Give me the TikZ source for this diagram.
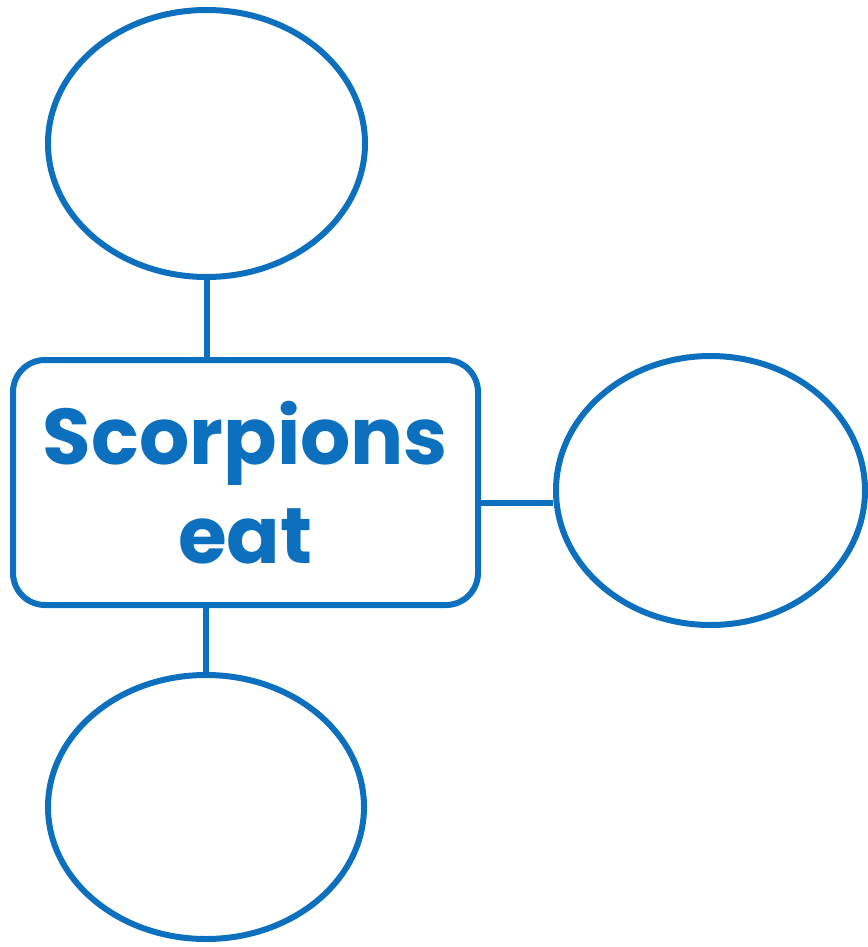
\documentclass[tikz,border=0pt]{standalone}
\usepackage{fontspec}
\setmainfont{Poppins}
\usepackage{tikz}
\usetikzlibrary{shapes.geometric}
\definecolor{mapblue}{RGB}{12,112,190}

\begin{document}
\begin{tikzpicture}[x=1pt,y=-1pt,line width=6pt,
    % styles
    bubble/.style={ellipse,draw=mapblue,inner sep=0pt},
    centre box/.style={draw=mapblue,rounded corners=32pt,inner sep=0pt,
      minimum width=465pt,minimum height=245pt,align=center,text=mapblue,
      font=\fontsize{79}{99}\selectfont\bfseries},
    link/.style={draw=mapblue}]

  % frame
  \useasboundingbox (0,0) rectangle (867,947);

  % centre
  \node [centre box] (eat) at (245.5,482.5) {Scorpions\\eat};

  % bubbles
  \node [bubble,minimum width=317pt,minimum height=267pt] (top) at (206.5,143.5) {};
  \node [bubble,minimum width=309pt,minimum height=269pt] (side) at (710.5,490.5) {};
  \node [bubble,minimum width=316pt,minimum height=264pt] (bottom) at (206,807) {};

  % links
  \draw [link] (top.south) -- (top.south |- eat.north);
  \draw [link] (bottom.north) -- (bottom.north |- eat.south);
  \draw [link] ([yshift=-20.5pt]eat.east) -- ([yshift=-12.5pt]side.west);
\end{tikzpicture}
\end{document}
